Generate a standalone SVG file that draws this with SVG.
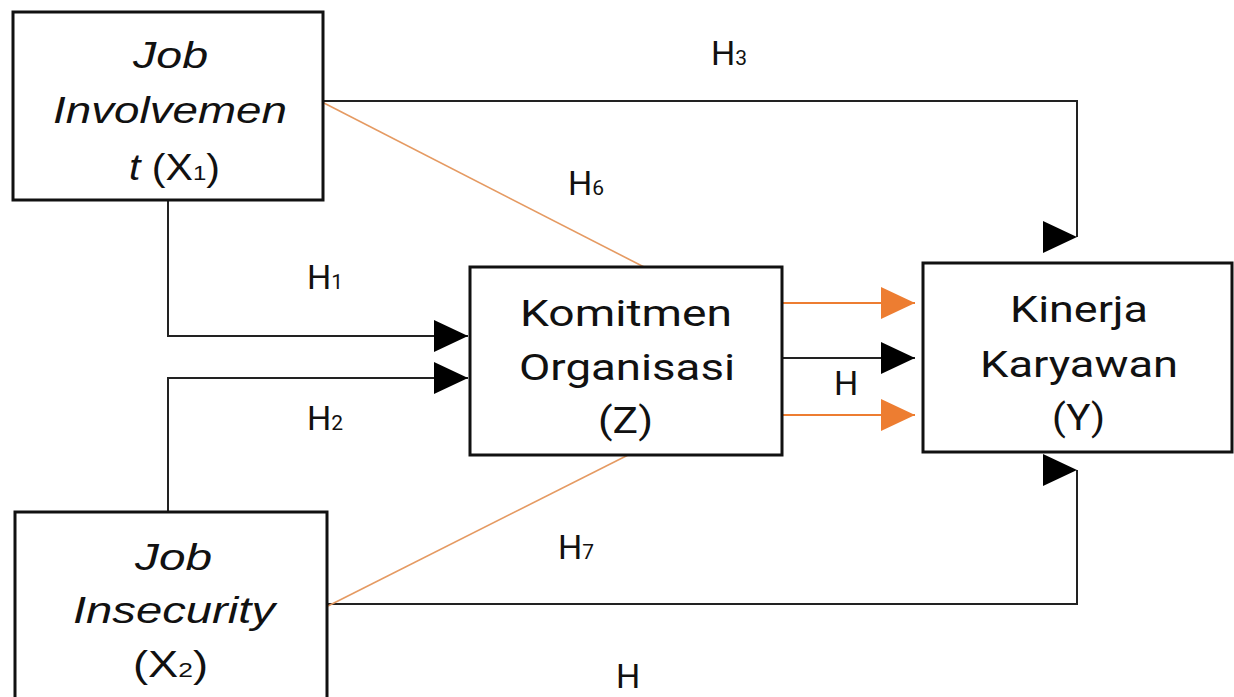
<svg xmlns="http://www.w3.org/2000/svg" width="1234" height="697" viewBox="0 0 1234 697">
<style>
.box{fill:#fff;stroke:#111;stroke-width:3}
.con{fill:none;stroke:#222;stroke-width:2}
.org{fill:none;stroke:#ED7D31;stroke-width:2}
.diag{fill:none;stroke:#E59A62;stroke-width:1.6}
.it{font-family:"Liberation Sans",Arial,sans-serif;font-size:36px;font-style:italic;fill:#111}
.up{font-style:normal}
.rb{font-family:Roboto,"Liberation Sans",sans-serif;font-size:36px;fill:#111}
.lab{font-family:Roboto,"Liberation Sans",sans-serif;font-size:34px;fill:#111}
.sub{font-size:21px}
</style>
<defs>
<marker id="ab" markerUnits="userSpaceOnUse" markerWidth="34" markerHeight="32" viewBox="0 0 34 32" refX="34" refY="16" orient="0"><path d="M0,0 L34,16 L0,32 Z" fill="#000"/></marker>
<marker id="ao" markerUnits="userSpaceOnUse" markerWidth="34" markerHeight="32" viewBox="0 0 34 32" refX="34" refY="16" orient="0"><path d="M0,0 L34,16 L0,32 Z" fill="#ED7D31"/></marker>
</defs>
<rect width="1234" height="697" fill="#fff"/>
<g id="connectors">
<path class="con" d="M168,200 V336 H468" marker-end="url(#ab)"/>
<path class="con" d="M168,512 V378 H468" marker-end="url(#ab)"/>
<path class="con" d="M323,101 H1077 V237" marker-end="url(#ab)"/>
<path class="con" d="M327,604 H1077 V470" marker-end="url(#ab)"/>
<path class="con" d="M782,358 H915" marker-end="url(#ab)"/>
<path class="org" d="M782,303 H915" marker-end="url(#ao)"/>
<path class="org" d="M782,415 H915" marker-end="url(#ao)"/>
<path class="diag" d="M322,102 L646,268"/>
<path class="diag" d="M328,606 L646,446"/>
</g>
<g id="node-x1">
<rect class="box" x="13" y="12" width="310" height="188"/>
<text class="it" x="133" y="68" textLength="75" lengthAdjust="spacingAndGlyphs">Job</text>
<text class="it" x="53" y="123" textLength="234" lengthAdjust="spacingAndGlyphs">Involvemen</text>
<text class="it" x="129" y="180" textLength="91" lengthAdjust="spacingAndGlyphs">t <tspan class="up">(X</tspan><tspan class="up sub">1</tspan><tspan class="up">)</tspan></text>
</g>
<g id="node-x2">
<rect class="box" x="15" y="512" width="312" height="220"/>
<text class="it" x="135" y="570" textLength="77" lengthAdjust="spacingAndGlyphs">Job</text>
<text class="it" x="73" y="623" textLength="202" lengthAdjust="spacingAndGlyphs">Insecurity</text>
<text class="it up" x="133" y="677" textLength="75" lengthAdjust="spacingAndGlyphs">(X<tspan class="sub">2</tspan>)</text>
</g>
<g id="node-z">
<rect class="box" x="470" y="267" width="312" height="188"/>
<text class="rb" x="520" y="326" textLength="212" lengthAdjust="spacingAndGlyphs">Komitmen</text>
<text class="rb" x="519" y="380" textLength="216" lengthAdjust="spacingAndGlyphs">Organisasi</text>
<text class="rb" x="598" y="433" textLength="55" lengthAdjust="spacingAndGlyphs">(Z)</text>
</g>
<g id="node-y">
<rect class="box" x="923" y="263" width="309" height="189"/>
<text class="rb" x="1010" y="322" textLength="138" lengthAdjust="spacingAndGlyphs">Kinerja</text>
<text class="rb" x="980" y="377" textLength="198" lengthAdjust="spacingAndGlyphs">Karyawan</text>
<text class="rb" x="1052" y="430" textLength="53" lengthAdjust="spacingAndGlyphs">(Y)</text>
</g>
<g id="labels">
<text class="lab" x="711" y="65">H<tspan class="sub">3</tspan></text>
<text class="lab" x="568" y="195">H<tspan class="sub">6</tspan></text>
<text class="lab" x="307" y="289">H<tspan class="sub">1</tspan></text>
<text class="lab" x="307" y="430">H<tspan class="sub">2</tspan></text>
<text class="lab" x="558" y="559">H<tspan class="sub">7</tspan></text>
<text class="lab" x="834" y="395">H</text>
<text class="lab" x="616" y="688">H</text>
</g>
</svg>
